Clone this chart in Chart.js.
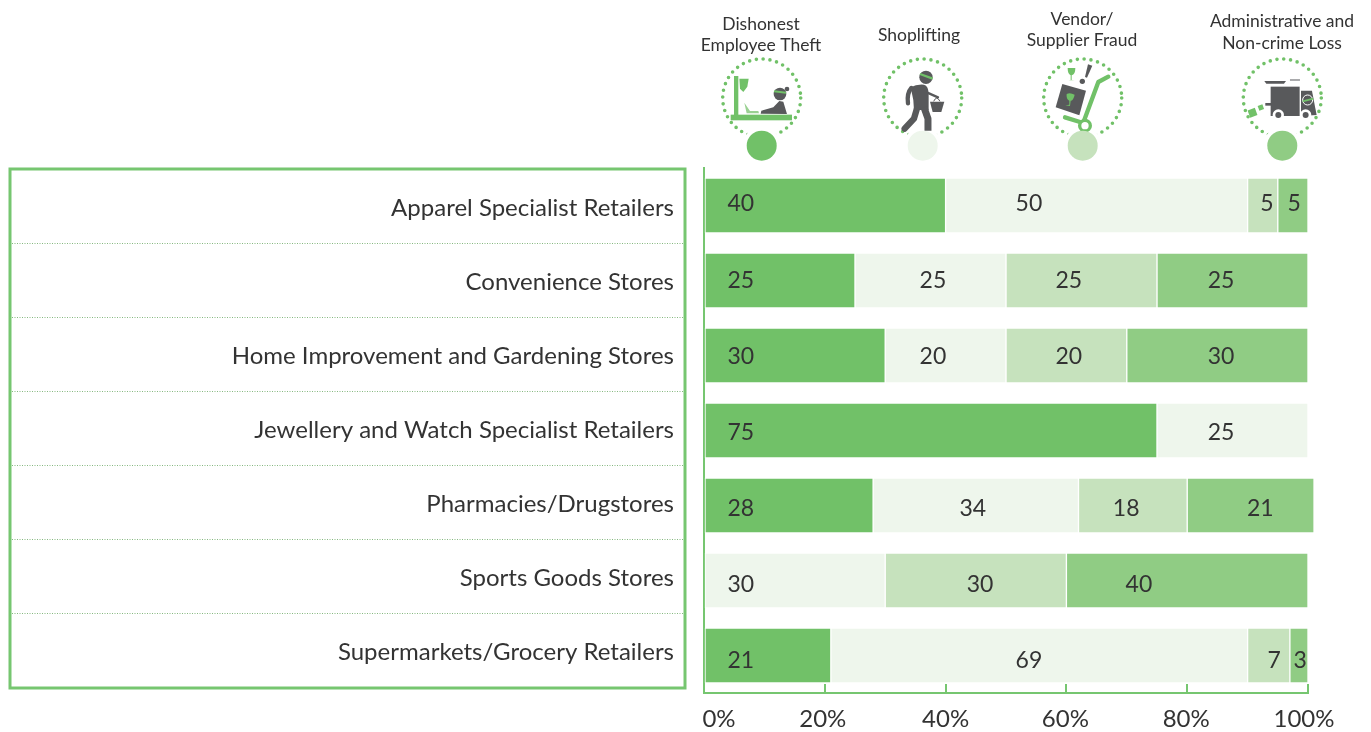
<!DOCTYPE html>
<html>
<head>
<meta charset="utf-8">
<title>Shrinkage by retail channel</title>
<script src="https://cdn.jsdelivr.net/npm/chart.js@4"></script>
<style>
  html, body { margin: 0; padding: 0; background: #fff; overflow: hidden; }
  #wrap { position: relative; width: 1371px; height: 732px; }
  #wrap svg, #wrap canvas { position: absolute; left: 0; top: 0; }
</style>
</head>
<body>
<div id="wrap">
  <!-- pictograms above the four columns -->
  <svg width="1371" height="732" viewBox="0 0 1371 732">
    <g fill="none" stroke="#71c168" stroke-width="3.6" stroke-linecap="round" stroke-dasharray="0 6.85">
      <circle cx="761.7" cy="98" r="39"/>
      <circle cx="922.7" cy="98" r="39"/>
      <circle cx="1082.7" cy="98" r="39"/>
      <circle cx="1282.3" cy="98" r="39"/>
    </g>
    <g fill="#fff">
      <circle cx="761.7" cy="145.7" r="19"/>
      <circle cx="922.7" cy="145.7" r="19"/>
      <circle cx="1082.7" cy="145.7" r="19"/>
      <circle cx="1282.3" cy="145.7" r="19"/>
    </g>
    <!-- employee at the till -->
    <g transform="translate(690,0) scale(0.3333)">
      <rect x="132" y="228" width="13" height="118" fill="#71c168"/>
      <rect x="122" y="344" width="184" height="17" fill="#71c168"/>
      <path d="M148 236 L176 236 L172 260 L160 276 L150 266 Z" fill="#71c168"/>
      <path d="M163 308 L170 340 L207 340 L205 333 L180 333" fill="#9ad192"/>
      <circle cx="270" cy="282" r="19" fill="#58595b"/>
      <circle cx="291" cy="267" r="7" fill="#58595b"/>
      <path d="M212 341 L214 332 L250 322 L268 303 L280 305 L291 342 Z" fill="#58595b"/>
      <path d="M252 274 L288 278" stroke="#71c168" stroke-width="6" fill="none"/>
    </g>
    <!-- shoplifter -->
    <g transform="translate(690,0) scale(0.3333)">
      <circle cx="708" cy="232" r="20" fill="#58595b"/>
      <path d="M690 222 L728 236" stroke="#71c168" stroke-width="7" fill="none"/>
      <path d="M662 262 Q680 252 702 254 Q716 258 716 282 L716 330 L672 330 L670 300 Z" fill="#58595b"/>
      <path d="M664 264 Q650 280 654 310" stroke="#58595b" stroke-width="13" fill="none" stroke-linecap="round"/>
      <path d="M682 322 L672 356 L644 386" stroke="#58595b" stroke-width="19" fill="none" stroke-linecap="round" stroke-linejoin="round"/>
      <path d="M702 322 L714 356 L714 392" stroke="#58595b" stroke-width="21" fill="none" stroke-linejoin="round"/>
      <path d="M712 278 L744 292" stroke="#58595b" stroke-width="7" fill="none" stroke-linecap="round"/>
      <path d="M720 305 L763 305 L754 336 L728 336 Z" fill="#58595b"/>
      <path d="M731 304 Q740 285 750 304" stroke="#58595b" stroke-width="3" fill="none"/>
    </g>
    <!-- hand truck and crate -->
    <g transform="translate(1030,0) scale(0.3333)">
      <path d="M235 230 L205 246 L162 362" stroke="#71c168" stroke-width="13" fill="none" stroke-linecap="round" stroke-linejoin="round"/>
      <path d="M105 352 L150 366" stroke="#71c168" stroke-width="13" fill="none" stroke-linecap="round"/>
      <circle cx="165" cy="377" r="16" fill="#fff" stroke="#71c168" stroke-width="10"/>
      <path d="M97 252 L168 272 L148 346 L77 322 Z" fill="#58595b"/>
      <path d="M110 282 Q120 276 134 284 Q130 302 122 302 L120 318 L106 316 L118 314 L118 302 Q108 298 110 282 Z" fill="#71c168"/>
      <path d="M113 204 L136 204 Q136 224 125 226 L125 240 L134 241 L115 241 L122 240 L122 226 Q113 222 113 204 Z" fill="#71c168"/>
      <path d="M174 193 L187 197 L171 233 L165 231 Z" fill="#58595b"/>
      <circle cx="157" cy="244" r="8" fill="#58595b"/>
    </g>
    <!-- delivery truck -->
    <g transform="translate(1030,0) scale(0.3333)">
      <path d="M703 243 L768 243 L762 251 L709 251 Z" fill="#58595b"/>
      <rect x="780" y="238" width="30" height="4" fill="#808285"/>
      <rect x="722" y="260" width="87" height="88" fill="#58595b"/>
      <rect x="706" y="309" width="18" height="8" fill="#58595b"/>
      <path d="M813 272 L846 272 L860 345 L813 348 Z" fill="#58595b"/>
      <circle cx="745" cy="345" r="17" fill="#fff"/>
      <circle cx="745" cy="345" r="9" fill="#58595b"/>
      <circle cx="827" cy="345" r="17" fill="#fff"/>
      <circle cx="827" cy="345" r="9" fill="#58595b"/>
      <circle cx="833" cy="300" r="15" fill="#58595b" stroke="#fff" stroke-width="3"/>
      <path d="M818 304 L850 296" stroke="#71c168" stroke-width="5" fill="none"/>
      <rect x="656" y="327" width="23" height="23" fill="#71c168" transform="rotate(-20 667 338)"/>
      <rect x="685" y="315" width="15" height="15" fill="#71c168" transform="rotate(-20 692 322)"/>
    </g>
  </svg>
  <canvas id="chart" width="1371" height="732"></canvas>
</div>

<script>
const categories = [
  'Apparel Specialist Retailers',
  'Convenience Stores',
  'Home Improvement and Gardening Stores',
  'Jewellery and Watch Specialist Retailers',
  'Pharmacies/Drugstores',
  'Sports Goods Stores',
  'Supermarkets/Grocery Retailers'
];

const employeeTheft = [40, 25, 30, 75, 28, null, 21];
const shoplifting = [50, 25, 20, 25, 34, 30, 69];
const vendorFraud = [5, 25, 20, null, 18, 30, 7];
const adminLoss = [5, 25, 30, null, 21, 40, 3];

const seriesNames = [
  ['Dishonest', 'Employee Theft'],
  ['Shoplifting'],
  ['Vendor/', 'Supplier Fraud'],
  ['Administrative and', 'Non-crime Loss']
];
const colors = ['#71c168', '#eef6ec', '#c6e2bd', '#90cc84'];

// where each value label sits along the axis, row by row (not mid-segment)
const labelSpots = [
  [6.1, 53.8, 93.2, 97.7],
  [6.1, 37.9, 60.4, 85.6],
  [6.1, 37.9, 60.4, 85.6],
  [6.1, 85.6, null, null],
  [6.1, 44.5, 69.9, 92.1],
  [null, 6.1, 45.7, 72],
  [6.1, 53.8, 94.4, 98.7]
];

const FONT = 'Lato, "Open Sans", sans-serif';
const INK = '#333333';
const GREEN = '#76c670';

const headerSpots = [
  { x: 761, y: [30, 51] },
  { x: 919, y: [41] },
  { x: 1082, y: [25, 46] },
  { x: 1282, y: [27, 49] }
];
const swatchX = [761.7, 922.7, 1082.7, 1282.3];
const tickNudge = [15, -2, 0, -1, -1, -4];

// boxed list of retail channels on the left
const rowTable = {
  id: 'rowTable',
  afterDraw(chart) {
    const ctx = chart.ctx;
    ctx.save();
    ctx.strokeStyle = GREEN;
    ctx.lineWidth = 3;
    ctx.strokeRect(10, 169, 675, 519);

    ctx.lineWidth = 1;
    ctx.strokeStyle = '#86b880';
    ctx.setLineDash([1, 1.5]);
    for (let i = 1; i < categories.length; i++) {
      const y = 169.5 + i * 74;
      ctx.beginPath();
      ctx.moveTo(12, y);
      ctx.lineTo(684, y);
      ctx.stroke();
    }
    ctx.setLineDash([]);

    ctx.fillStyle = INK;
    ctx.font = '400 24px ' + FONT;
    ctx.textAlign = 'right';
    ctx.textBaseline = 'middle';
    chart.scales.y.getLabels().forEach((label, i) => {
      ctx.fillText(label, 674, 208 + i * 74);
    });
    ctx.restore();
  }
};

// column headings and their colour keys, taken from the datasets
const columnHeads = {
  id: 'columnHeads',
  afterDraw(chart) {
    const ctx = chart.ctx;
    ctx.save();
    ctx.textAlign = 'center';
    ctx.textBaseline = 'alphabetic';
    chart.data.datasets.forEach((ds, i) => {
      ctx.fillStyle = INK;
      ctx.font = '400 17.5px ' + FONT;
      ds.label.forEach((line, j) => {
        ctx.fillText(line, headerSpots[i].x, headerSpots[i].y[j]);
      });
      ctx.fillStyle = ds.backgroundColor;
      ctx.beginPath();
      ctx.arc(swatchX[i], 145.7, 15, 0, Math.PI * 2);
      ctx.fill();
    });
    ctx.restore();
  }
};

const valueLabels = {
  id: 'valueLabels',
  afterDatasetsDraw(chart) {
    const ctx = chart.ctx;
    const x = chart.scales.x;
    ctx.save();
    ctx.fillStyle = INK;
    ctx.font = '400 23px ' + FONT;
    ctx.textAlign = 'center';
    ctx.textBaseline = 'middle';
    chart.data.datasets.forEach((ds, i) => {
      ds.data.forEach((v, row) => {
        if (v === null) return;
        ctx.fillText(v, x.getPixelForValue(labelSpots[row][i]), 204 + row * 76.1);
      });
    });
    ctx.restore();
  }
};

// percent labels under the axis; the first and last are pulled inwards
const percentTicks = {
  id: 'percentTicks',
  afterDraw(chart) {
    const ctx = chart.ctx;
    const x = chart.scales.x;
    ctx.save();
    ctx.fillStyle = INK;
    ctx.font = '400 24px ' + FONT;
    ctx.textAlign = 'center';
    ctx.textBaseline = 'middle';
    x.ticks.forEach((t, i) => {
      ctx.fillText(t.value + '%', x.getPixelForValue(t.value) + tickNudge[i], 719);
    });
    ctx.restore();
  }
};

const series = [employeeTheft, shoplifting, vendorFraud, adminLoss];

new Chart(document.getElementById('chart'), {
  type: 'bar',
  data: {
    labels: categories,
    datasets: series.map((values, i) => ({
      label: seriesNames[i],
      data: values,
      backgroundColor: colors[i],
      borderColor: '#ffffff',
      borderWidth: 1,
      borderSkipped: false,
      barThickness: 55,
      clip: false
    }))
  },
  options: {
    indexAxis: 'y',
    responsive: false,
    animation: false,
    layout: { padding: { top: 168, right: 63, bottom: 39, left: 0 } },
    plugins: {
      legend: { display: false },
      title: { display: false },
      tooltip: { enabled: false }
    },
    scales: {
      x: {
        stacked: true,
        min: 0,
        max: 100,
        ticks: { display: false, stepSize: 20 },
        grid: { drawOnChartArea: false, tickLength: -9, color: GREEN, lineWidth: 2 },
        border: { color: GREEN, width: 2 },
        afterFit: s => { s.height = 0; }
      },
      y: {
        stacked: true,
        ticks: { display: false },
        grid: { display: false },
        border: { color: GREEN, width: 2 },
        afterFit: s => { s.width = 704; }
      }
    }
  },
  plugins: [valueLabels, rowTable, columnHeads, percentTicks]
});
</script>
</body>
</html>
